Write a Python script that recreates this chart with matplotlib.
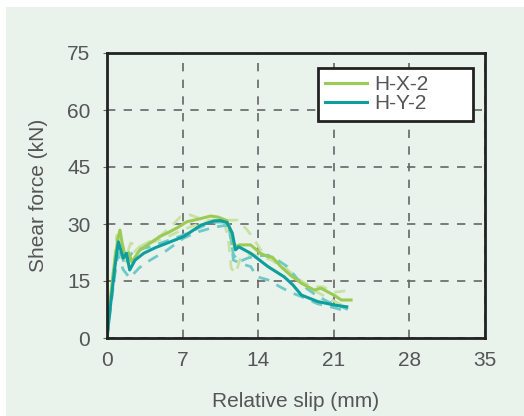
import matplotlib
matplotlib.use("Agg")
import matplotlib.pyplot as plt
from matplotlib.patches import Rectangle

# main specimens (solid)
hx2_x = [0, 0.3, 0.7, 1.0, 1.2, 1.4, 1.7, 2.0, 2.3, 3, 4, 4.9, 5.5, 6.5, 7.4, 8.5, 9.6, 10.3, 11.1, 11.5,
         11.8, 12.3, 13.3, 14.2, 14.9, 15.3, 16.1, 17, 18, 19.2, 19.8, 21, 21.7, 22.6]
hx2_y = [0, 10, 20, 26, 28.4, 25, 21.3, 22.5, 20, 23, 25, 26.7, 27.5, 29, 30.6, 31.3, 32.1, 31.8, 30.9, 28,
         24, 24.5, 24.5, 22.3, 21.4, 21.3, 18.8, 16.5, 14.4, 12.6, 13.1, 11.3, 10, 10]
hy2_x = [0, 0.3, 0.7, 1.05, 1.3, 1.5, 1.8, 2.1, 2.6, 3.4, 4.5, 5.5, 7.1, 8.7, 9.9, 10.5, 11.1, 11.6, 11.9,
         12.2, 13.3, 14.9, 16.4, 17.2, 18, 19.5, 21, 22.2]
hy2_y = [0, 8, 18, 25.3, 23, 21, 22.3, 17.9, 20.5, 22.3, 23.8, 24.9, 26.7, 29.7, 30.8, 30.9, 30.4, 27.6, 23.2,
         24, 22.3, 18.8, 16.1, 14, 11.3, 9.6, 8.7, 8.2]

# companion specimens (dashed, pale)
hx1_x = [0, 0.5, 0.9, 1.3, 1.7, 2.2, 3, 4, 5, 6, 6.8, 7.7, 9, 10.5, 12.1, 13, 13.6, 14.5, 16, 17.5, 19, 20, 21, 22.3]
hx1_y = [0, 15, 27, 22, 21, 25, 24, 25.5, 27, 29.5, 31.9, 32.4, 31, 31, 31, 28.4, 26, 22, 19, 15.5, 13.5, 13.5, 12, 12.5]
hx3_x = [0, 0.6, 1.0, 1.4, 1.8, 2.3, 3, 4, 5.5, 7, 8.5, 9.8, 10.8, 11.2, 11.5, 11.9, 12.4, 13.5, 14.5, 15.5,
         16.5, 17.5, 18.5, 19.5, 20.5, 21.5, 22.3]
hx3_y = [0, 18, 26, 24, 20, 22, 24, 25, 26.5, 28.5, 30, 31, 30.5, 27, 18.4, 17, 21.3, 22, 21, 20.5,
         18.5, 16, 14, 12, 10.5, 9, 8]
hy1_x = [0, 0.5, 0.9, 1.3, 1.7, 2.2, 2.6, 3.2, 4, 5.5, 7, 8.5, 9.8, 10.8, 11.3, 11.7, 12.2, 13, 13.7, 14.9,
         15.8, 16.7, 17.7, 18.5, 19.5, 20.5, 21.5, 22.3]
hy1_y = [0, 14, 24, 22, 19, 22, 23.2, 23.5, 24, 25.5, 27, 29, 30.5, 30.5, 29, 22, 20, 21, 21.5, 21.8,
         20.5, 18.8, 15.3, 13, 11, 9.5, 8.5, 7.5]
hy3_x = [0, 0.6, 1.0, 1.5, 2.1, 3, 4, 5.5, 7.1, 8.5, 10, 11.1, 11.5, 11.7, 12.5, 13.3, 13.9, 14.9, 16, 17,
         18, 19.5, 21, 22.3]
hy3_y = [0, 14, 22, 18, 15.8, 18.5, 20.5, 23, 26.3, 28, 29.2, 29.7, 26, 20.5, 19.5, 18.8, 16.1, 15.3, 13.5, 12,
         10.9, 9, 8, 6.9]

xticks = [0, 7, 14, 21, 28, 35]
yticks = [0, 15, 30, 45, 60, 75]

bg = "#E9F3EC"
green = "#9CCB55"
teal = "#0E9E9E"
plt.rcParams["font.family"] = ["Liberation Sans", "DejaVu Sans"]

fig = plt.figure(figsize=(5.24, 4.16), dpi=100)
fig.patch.set_facecolor("white")
fig.patches.append(Rectangle((6 / 524, 0), 1, 1 - 7 / 416, transform=fig.transFigure,
                             facecolor=bg, edgecolor="none", zorder=-10))
ax = fig.add_axes([107 / 524, 78 / 416, 378 / 524, 285 / 416])
ax.set_facecolor(bg)

dash = (0, (4, 3))
ax.plot(hx1_x, hx1_y, color="#C7E2A4", lw=2, ls=dash)
ax.plot(hx3_x, hx3_y, color="#C7E2A4", lw=2, ls=dash)
ax.plot(hy1_x, hy1_y, color="#6FC9C6", lw=2, ls=dash)
ax.plot(hy3_x, hy3_y, color="#6FC9C6", lw=2, ls=dash)
ax.plot(hx2_x, hx2_y, color=green, lw=2.2, label="H-X-2")
ax.plot(hy2_x, hy2_y, color=teal, lw=2.2, label="H-Y-2")

ax.set_xlim(0, 35)
ax.set_ylim(0, 75)
ax.set_xticks(xticks)
ax.set_yticks(yticks)
ax.grid(True, color="#666666", ls=(0, (5, 5)), lw=1.2)
for s in ax.spines.values():
    s.set_color("#222222")
    s.set_linewidth(2)
ax.tick_params(axis="x", length=0, pad=9, labelsize=15, labelcolor="#555555")
ax.tick_params(axis="y", length=3, direction="out", color="#666666", pad=9, labelsize=15, labelcolor="#555555")
ax.set_xlabel("Relative slip (mm)", fontsize=15, color="#555555", labelpad=16)
ax.set_ylabel("Shear force (kN)", fontsize=15, color="#555555", labelpad=14)

# legend box spans px 318-473 horizontally, 68-122 vertically
leg = ax.legend(loc="upper left", mode="expand", fontsize=15, frameon=True, fancybox=False,
                handlelength=2.0, borderpad=0.35, labelspacing=0.0, handletextpad=0.35,
                borderaxespad=0, bbox_to_anchor=((318 - 107) / 378, 0.757, 155 / 378, 1 - 15 / 285 - 0.757))
leg.get_frame().set_edgecolor("#222222")
leg.get_frame().set_linewidth(2)
leg.get_frame().set_facecolor("white")
leg.get_frame().set_alpha(1)
for t in leg.get_texts():
    t.set_color("#555555")

fig.savefig("out.png", dpi=100)
